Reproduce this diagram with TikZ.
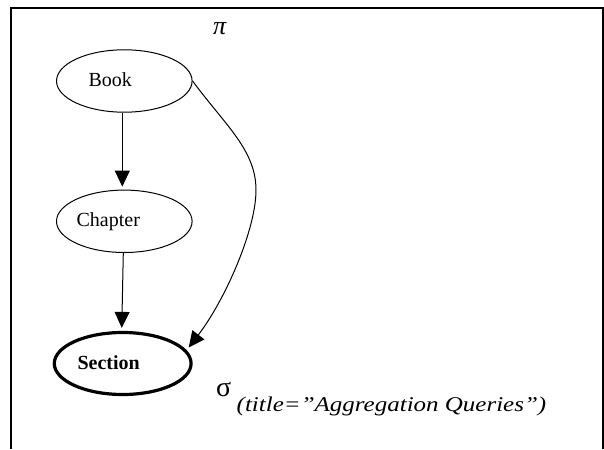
\documentclass[tikz,border=0pt]{standalone}
\usepackage{graphicx}
\usepackage{fontspec}
\setmainfont{Liberation Serif}
\usetikzlibrary{shapes.geometric,arrows.meta}
\begin{document}
\begin{tikzpicture}[x=1pt,y=-1pt,
  ell/.style={ellipse, draw, line width=1pt, inner sep=0pt,
    minimum width=135.6pt, minimum height=62.4pt,
    font=\fontsize{20}{24}\selectfont, text height=13pt, text depth=2pt},
  boldell/.style={ell, line width=3.2pt, minimum width=136.8pt, minimum height=62pt},
  arr/.style={line width=1pt, -{Triangle[width=15pt,length=16pt]}},
  lbl/.style={anchor=base west, inner sep=0pt}]
\useasboundingbox (0,0) rectangle (604,449);
\draw[line width=2pt] (11,449) -- (11,8.3) -- (602.5,8.3) -- (602.5,449);
\node[ell] (book) at (124.3,81) {\makebox[0pt]{\hspace*{-28pt}Book}};
\node[ell] (chap) at (124.3,221.3) {\makebox[0pt]{\hspace*{-32pt}Chapter}};
\node[boldell] (sec) at (122.7,363.5) {\makebox[0pt]{\hspace*{-28pt}\textbf{Section}}};
\node[lbl, font=\fontsize{26}{30}\selectfont\itshape] (pi) at (213,35) {π};
\node[lbl, font=\fontsize{28}{32}\selectfont] (sigma) at (216,396.5) {σ};
\node[lbl, font=\fontsize{21}{25}\selectfont\itshape] (cond) at (236.5,411.7) {\scalebox{1.19}[1]{(title=”Aggregation Queries”)}};
\draw[arr, shorten >=3pt] ([xshift=-2pt]book.south) -- ([xshift=-2pt]chap.north);
\draw[arr, shorten >=3pt] ([xshift=-1pt]chap.south) -- ([xshift=-1pt]sec.north);
\draw[arr] (book.east) .. controls (225,125) and (256,150) .. (256,190)
  .. controls (256,230) and (225,300) .. ([shift={(66,-16)}]sec.center);
\end{tikzpicture}
\end{document}
